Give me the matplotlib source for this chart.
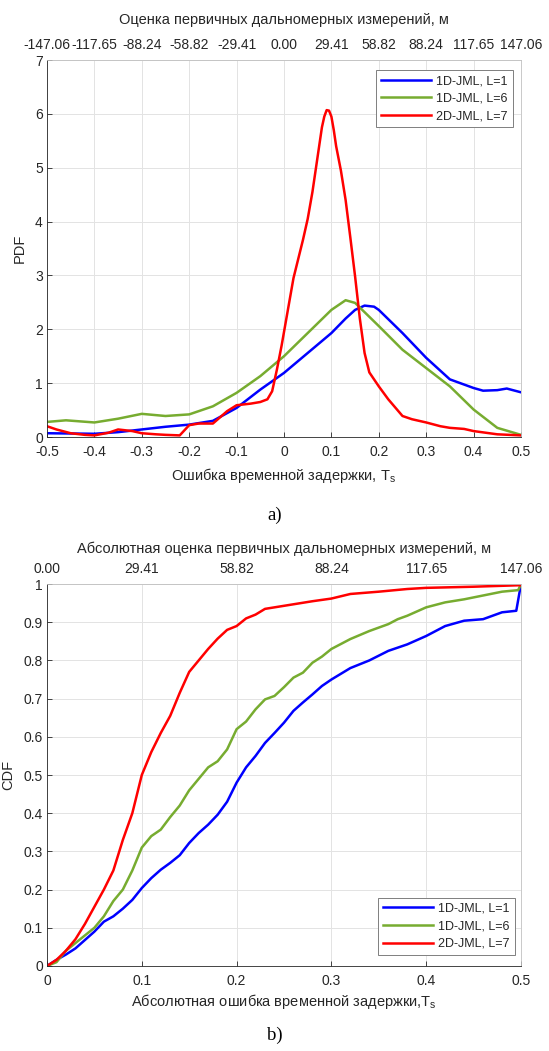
import numpy as np
import matplotlib.pyplot as plt

plt.rcParams['font.family'] = ['Liberation Sans', 'DejaVu Sans']

# PDF of the delay error (top panel)
pdf_x_l1 = [-0.5, -0.45, -0.4, -0.35, -0.3, -0.25, -0.2, -0.15, -0.1, -0.05, 0, 0.05,
            0.1, 0.13, 0.15, 0.17, 0.19, 0.2, 0.25, 0.3, 0.35, 0.4, 0.42, 0.45, 0.47, 0.5]
pdf_y_l1 = [0.07, 0.065, 0.06, 0.09, 0.14, 0.19, 0.23, 0.3, 0.54, 0.88, 1.19, 1.56,
            1.93, 2.2, 2.36, 2.44, 2.42, 2.36, 1.93, 1.47, 1.07, 0.91, 0.86, 0.87, 0.9, 0.83]

pdf_x_l6 = [-0.5, -0.46, -0.4, -0.35, -0.3, -0.25, -0.2, -0.15, -0.1, -0.05, 0, 0.05,
            0.1, 0.13, 0.15, 0.2, 0.25, 0.3, 0.35, 0.4, 0.45, 0.5]
pdf_y_l6 = [0.28, 0.31, 0.27, 0.34, 0.43, 0.39, 0.42, 0.57, 0.82, 1.13, 1.5, 1.93,
            2.36, 2.54, 2.49, 2.06, 1.62, 1.28, 0.94, 0.51, 0.17, 0.04]

pdf_x_2d = [-0.5, -0.48, -0.45, -0.42, -0.4, -0.37, -0.35, -0.32, -0.3, -0.27, -0.25, -0.22,
            -0.2, -0.18, -0.15, -0.12, -0.1, -0.07, -0.05, -0.035, -0.025, -0.015, -0.005,
            0.005, 0.02, 0.04, 0.05, 0.06, 0.07, 0.08, 0.085, 0.09, 0.095, 0.1, 0.105, 0.11,
            0.12, 0.13, 0.14, 0.15, 0.16, 0.17, 0.18, 0.19, 0.2, 0.22, 0.25, 0.27, 0.3,
            0.33, 0.35, 0.38, 0.4, 0.45, 0.5]
pdf_y_2d = [0.2, 0.14, 0.07, 0.04, 0.03, 0.08, 0.14, 0.11, 0.07, 0.05, 0.04, 0.03,
            0.22, 0.25, 0.25, 0.48, 0.59, 0.62, 0.65, 0.7, 0.85, 1.25, 1.7,
            2.2, 2.95, 3.66, 4.05, 4.55, 5.15, 5.75, 5.95, 6.07, 6.06, 5.95, 5.7, 5.4,
            4.95, 4.4, 3.7, 2.98, 2.2, 1.56, 1.2, 1.07, 0.94, 0.7, 0.39, 0.33, 0.27,
            0.2, 0.17, 0.15, 0.11, 0.05, 0.03]

# CDF of the absolute delay error (bottom panel)
cdf_x_l1 = [0, 0.01, 0.02, 0.03, 0.04, 0.05, 0.06, 0.07, 0.08, 0.09, 0.1, 0.11, 0.12,
            0.13, 0.14, 0.15, 0.16, 0.17, 0.18, 0.19, 0.2, 0.21, 0.22, 0.23, 0.24, 0.25,
            0.26, 0.27, 0.28, 0.29, 0.3, 0.32, 0.34, 0.36, 0.38, 0.4, 0.42, 0.44, 0.46,
            0.47, 0.48, 0.495, 0.5]
cdf_y_l1 = [0, 0.016, 0.03, 0.046, 0.068, 0.09, 0.116, 0.13, 0.15, 0.173, 0.204, 0.23,
            0.252, 0.27, 0.29, 0.322, 0.348, 0.37, 0.396, 0.43, 0.48, 0.52, 0.55, 0.584,
            0.61, 0.637, 0.668, 0.69, 0.711, 0.733, 0.75, 0.78, 0.8, 0.825, 0.842, 0.864,
            0.89, 0.904, 0.908, 0.917, 0.926, 0.93, 1.0]

cdf_x_l6 = [0, 0.01, 0.02, 0.03, 0.04, 0.05, 0.06, 0.07, 0.08, 0.09, 0.1, 0.11, 0.12,
            0.13, 0.14, 0.15, 0.16, 0.17, 0.18, 0.19, 0.2, 0.21, 0.22, 0.23, 0.24, 0.25,
            0.26, 0.27, 0.28, 0.29, 0.3, 0.32, 0.34, 0.36, 0.37, 0.38, 0.4, 0.42, 0.44,
            0.46, 0.48, 0.497, 0.5]
cdf_y_l6 = [0, 0.01, 0.04, 0.06, 0.08, 0.1, 0.13, 0.17, 0.2, 0.25, 0.31, 0.34, 0.357,
            0.39, 0.42, 0.46, 0.49, 0.52, 0.536, 0.567, 0.62, 0.64, 0.672, 0.698, 0.707,
            0.73, 0.755, 0.768, 0.794, 0.81, 0.83, 0.856, 0.877, 0.895, 0.908, 0.917,
            0.939, 0.952, 0.96, 0.97, 0.98, 0.984, 1.0]

cdf_x_2d = [0, 0.01, 0.02, 0.03, 0.04, 0.05, 0.06, 0.07, 0.08, 0.09, 0.1, 0.11, 0.12,
            0.13, 0.14, 0.15, 0.16, 0.17, 0.18, 0.19, 0.2, 0.21, 0.22, 0.23, 0.25, 0.28,
            0.3, 0.32, 0.35, 0.38, 0.4, 0.45, 0.5]
cdf_y_2d = [0, 0.016, 0.04, 0.07, 0.11, 0.155, 0.2, 0.25, 0.33, 0.4, 0.5, 0.56, 0.61,
            0.655, 0.715, 0.77, 0.8, 0.83, 0.857, 0.88, 0.89, 0.91, 0.92, 0.935, 0.943,
            0.955, 0.962, 0.974, 0.98, 0.987, 0.99, 0.993, 0.997]

labels = ['1D-JML, L=1', '1D-JML, L=6', '2D-JML, L=7']
colors = ['#0000ff', '#77ac30', '#ff0000']

pdf_xticks = [-0.5, -0.4, -0.3, -0.2, -0.1, 0, 0.1, 0.2, 0.3, 0.4, 0.5]
pdf_xticklabels = ['-0.5', '-0.4', '-0.3', '-0.2', '-0.1', '0', '0.1', '0.2', '0.3', '0.4', '0.5']
pdf_top_labels = ['-147.06', '-117.65', '-88.24', '-58.82', '-29.41', '0.00',
                  '29.41', '58.82', '88.24', '117.65', '147.06']
pdf_yticks = [0, 1, 2, 3, 4, 5, 6, 7]

cdf_xticks = [0, 0.1, 0.2, 0.3, 0.4, 0.5]
cdf_xticklabels = ['0', '0.1', '0.2', '0.3', '0.4', '0.5']
cdf_top_labels = ['0.00', '29.41', '58.82', '88.24', '117.65', '147.06']
cdf_yticks = [0, 0.1, 0.2, 0.3, 0.4, 0.5, 0.6, 0.7, 0.8, 0.9, 1]
cdf_yticklabels = ['0', '0.1', '0.2', '0.3', '0.4', '0.5', '0.6', '0.7', '0.8', '0.9', '1']

TICK_FS = 10
LABEL_FS = 10.5
DARK = '#262626'


def style_axes(ax, top, xticks, xticklabels, top_labels, yticks, yticklabels, xlim, ylim):
    ax.set_xlim(xlim)
    ax.set_ylim(ylim)
    ax.set_xticks(xticks)
    ax.set_xticklabels(xticklabels)
    ax.set_yticks(yticks)
    ax.set_yticklabels(yticklabels)
    ax.grid(True, color='#e3e3e3', linewidth=0.7)
    ax.set_axisbelow(True)
    ax.tick_params(direction='in', length=3.5, width=0.6, colors=DARK,
                   labelsize=TICK_FS, labelcolor=DARK)
    ax.tick_params(axis='x', pad=6)
    ax.tick_params(axis='y', pad=3)
    for side in ['left', 'bottom']:
        ax.spines[side].set_color(DARK)
        ax.spines[side].set_linewidth(0.6)
    for side in ['top', 'right']:
        ax.spines[side].set_color('#c0c0c0')
        ax.spines[side].set_linewidth(0.6)

    top.set_xlim(xlim)
    top.set_xticks(xticks)
    top.set_xticklabels(top_labels)
    top.tick_params(axis='x', direction='in', length=0, labelsize=TICK_FS,
                    labelcolor=DARK, pad=6)
    for s in top.spines.values():
        s.set_visible(False)


def add_legend(ax, loc, anchor):
    leg = ax.legend(loc=loc, bbox_to_anchor=anchor, fontsize=9,
                    frameon=True, fancybox=False, edgecolor='#7f7f7f', framealpha=1,
                    handlelength=4.0, handletextpad=0.4, borderpad=0.4,
                    labelspacing=0.45, borderaxespad=0)
    leg.get_frame().set_linewidth(0.7)
    for t in leg.get_texts():
        t.set_color(DARK)
    return leg


fig = plt.figure(figsize=(5.49, 10.51), dpi=100)

# a) PDF
ax1 = fig.add_axes([0.0856, 0.5842, 0.8634, 0.3587])
for x, y, c, lab in zip([pdf_x_l1, pdf_x_l6, pdf_x_2d], [pdf_y_l1, pdf_y_l6, pdf_y_2d],
                        colors, labels):
    ax1.plot(x, y, color=c, linewidth=1.8, label=lab)
top1 = ax1.twiny()
style_axes(ax1, top1, pdf_xticks, pdf_xticklabels, pdf_top_labels,
           pdf_yticks, [str(v) for v in pdf_yticks], (-0.5, 0.5), (0, 7))
ax1.set_ylabel('PDF', fontsize=LABEL_FS, color=DARK, labelpad=6)
ax1.set_xlabel('Ошибка временной задержки, T$_\\mathregular{s}$',
               fontsize=LABEL_FS, color=DARK, labelpad=5)
top1.set_xlabel('Оценка первичных дальномерных измерений, м',
                fontsize=LABEL_FS, color=DARK, labelpad=10)
add_legend(ax1, 'upper right', (0.983, 0.973))

# b) CDF
ax2 = fig.add_axes([0.0856, 0.0809, 0.8634, 0.3634])
for x, y, c, lab in zip([cdf_x_l1, cdf_x_l6, cdf_x_2d], [cdf_y_l1, cdf_y_l6, cdf_y_2d],
                        colors, labels):
    ax2.plot(x, y, color=c, linewidth=1.8, label=lab)
top2 = ax2.twiny()
style_axes(ax2, top2, cdf_xticks, cdf_xticklabels, cdf_top_labels,
           cdf_yticks, cdf_yticklabels, (0, 0.5), (0, 1))
ax2.set_ylabel('CDF', fontsize=LABEL_FS, color=DARK, labelpad=6)
ax2.set_xlabel('Абсолютная ошибка временной задержки,T$_\\mathregular{s}$',
               fontsize=LABEL_FS, color=DARK, labelpad=3)
top2.set_xlabel('Абсолютная оценка первичных дальномерных измерений, м',
                fontsize=LABEL_FS, color=DARK, labelpad=6)
add_legend(ax2, 'lower right', (0.987, 0.029))

fig.text(0.5, 1 - 515 / 1051, 'a)', ha='center', va='center', fontsize=13.5,
         family=['Liberation Serif', 'DejaVu Serif'])
fig.text(0.5, 1 - 1035 / 1051, 'b)', ha='center', va='center', fontsize=13.5,
         family=['Liberation Serif', 'DejaVu Serif'])

fig.savefig('out.png', dpi=100)
